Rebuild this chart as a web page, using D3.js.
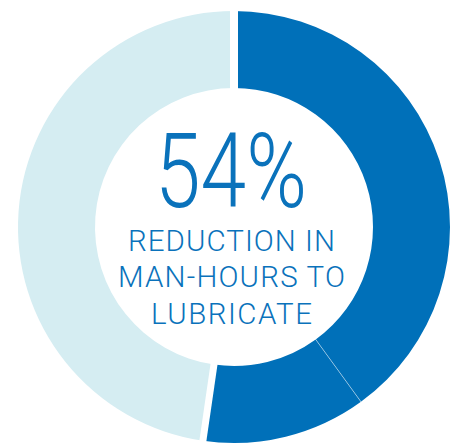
<!DOCTYPE html>
<html><head><meta charset="utf-8">
<script src="https://cdn.jsdelivr.net/npm/d3@7"></script>
<style>html,body{margin:0;padding:0;background:#fff;}svg{display:block;}</style>
</head><body>
<svg id="c" width="460" height="446"></svg>
<script>
const categories = ["Reduction (part 1)", "Reduction (part 2)", "Remaining"];
const values = [40, 12.3, 47.7];
const colors = ["#0070b9", "#0070b9", "#d5edf2"];
const headline = "54%";
const subLines = ["REDUCTION IN", "MAN-HOURS TO", "LUBRICATE"];

const svg = d3.select("#c");
const cx = 234, cy = 227, rOuter = 216, rInner = 139;
const g = svg.append("g").attr("transform", `translate(${cx},${cy})`);

const pie = d3.pie().sort(null).value(d => d);
const arcs = pie(values);
const arc = d3.arc().innerRadius(rInner).outerRadius(rOuter);

g.selectAll("path.slice").data(arcs).join("path")
  .attr("class", "slice")
  .attr("d", arc)
  .attr("fill", (d, i) => colors[i]);

// boundaries: white gaps between dark and light, hairline between dark parts
function radial(a, r) { return [r * Math.sin(a), -r * Math.cos(a)]; }
const boundaries = [
  {a: arcs[0].startAngle, w: 8, c: "#fff", o: 1},
  {a: arcs[2].startAngle, w: 7, c: "#fff", o: 1},
  {a: arcs[1].startAngle, w: 1, c: "#fff", o: 0.45}
];
g.selectAll("line.b").data(boundaries).join("line")
  .attr("class", "b")
  .attr("x1", d => radial(d.a, rInner - 2)[0])
  .attr("y1", d => radial(d.a, rInner - 2)[1])
  .attr("x2", d => radial(d.a, rOuter + 2)[0])
  .attr("y2", d => radial(d.a, rOuter + 2)[1])
  .attr("stroke", d => d.c)
  .attr("stroke-opacity", d => d.o)
  .attr("stroke-width", d => d.w);

const textColor = "#0a72bb";
svg.append("text")
  .attr("x", 231).attr("y", 207)
  .attr("text-anchor", "middle")
  .attr("font-family", "Roboto, 'DejaVu Sans', sans-serif")
  .attr("font-weight", 300)
  .attr("font-size", 103)
  .attr("fill", textColor)
  .attr("textLength", 152)
  .attr("lengthAdjust", "spacingAndGlyphs")
  .text(headline);

const lineSpecs = [
  {y: 251, len: 207},
  {y: 287, len: 227},
  {y: 324, len: 161}
];
svg.selectAll("text.sub").data(subLines).join("text")
  .attr("class", "sub")
  .attr("x", 231.5)
  .attr("y", (d, i) => lineSpecs[i].y)
  .attr("text-anchor", "middle")
  .attr("font-family", "Roboto, 'DejaVu Sans', sans-serif")
  .attr("font-weight", 300)
  .attr("font-size", 29.5)
  .attr("fill", textColor)
  .attr("textLength", (d, i) => lineSpecs[i].len)
  .attr("lengthAdjust", "spacing")
  .text(d => d);
</script>
</body></html>
